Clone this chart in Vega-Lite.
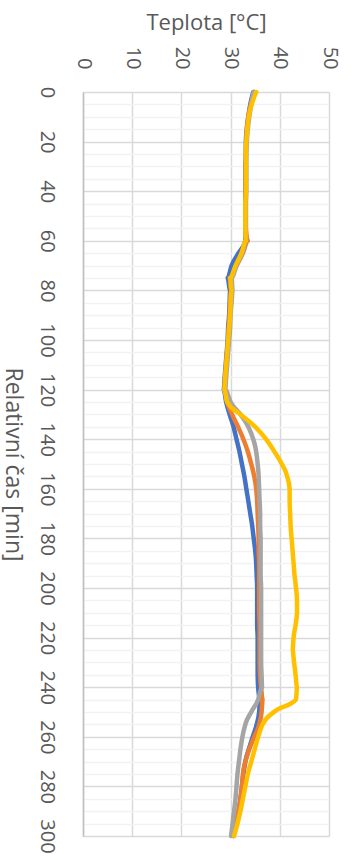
{
  "$schema": "https://vega.github.io/schema/vega-lite/v6.json",
  "width": 246,
  "height": 744,
  "autosize": {"type": "none"},
  "padding": {"left": 83, "top": 92, "right": 25, "bottom": 24},
  "background": "white",
  "config": {"view": {"stroke": null}, "font": "Open Sans"},
  "datasets": {
    "temps": [
      {"t":0,"Y":35.2,"B":34.6,"O":34.8,"G":34.7},
      {"t":5,"Y":34.3,"B":34.0,"O":34.1,"G":34.2},
      {"t":10,"Y":33.7,"B":33.6,"O":33.6,"G":33.8},
      {"t":15,"Y":33.4,"B":33.3,"O":33.3,"G":33.5},
      {"t":20,"Y":33.2,"B":33.1,"O":33.2,"G":33.3},
      {"t":25,"Y":33.1,"B":33.1,"O":33.1,"G":33.2},
      {"t":30,"Y":33.1,"B":33.0,"O":33.1,"G":33.2},
      {"t":35,"Y":33.1,"B":33.0,"O":33.1,"G":33.2},
      {"t":40,"Y":33.1,"B":33.0,"O":33.1,"G":33.2},
      {"t":45,"Y":33.0,"B":33.0,"O":33.1,"G":33.1},
      {"t":50,"Y":33.0,"B":33.0,"O":33.1,"G":33.1},
      {"t":55,"Y":33.0,"B":33.0,"O":33.1,"G":33.1},
      {"t":60,"Y":33.1,"B":33.0,"O":33.5,"G":33.2},
      {"t":65,"Y":32.2,"B":31.6,"O":32.5,"G":32.4},
      {"t":70,"Y":31.0,"B":30.2,"O":31.2,"G":31.2},
      {"t":75,"Y":29.9,"B":29.4,"O":29.8,"G":30.2},
      {"t":80,"Y":30.2,"B":29.9,"O":30.1,"G":30.4},
      {"t":85,"Y":30.0,"B":29.8,"O":29.9,"G":30.2},
      {"t":90,"Y":29.9,"B":29.7,"O":29.8,"G":30.0},
      {"t":95,"Y":29.7,"B":29.5,"O":29.6,"G":29.9},
      {"t":100,"Y":29.5,"B":29.4,"O":29.5,"G":29.7},
      {"t":105,"Y":29.3,"B":29.2,"O":29.3,"G":29.5},
      {"t":110,"Y":29.1,"B":29.0,"O":29.1,"G":29.3},
      {"t":115,"Y":28.9,"B":28.8,"O":28.9,"G":29.1},
      {"t":120,"Y":28.7,"B":28.6,"O":28.7,"G":28.9},
      {"t":125,"Y":29.3,"B":29.1,"O":29.3,"G":30.0},
      {"t":130,"Y":32.0,"B":29.8,"O":30.3,"G":32.0},
      {"t":135,"Y":35.0,"B":30.6,"O":31.5,"G":33.6},
      {"t":140,"Y":37.2,"B":31.2,"O":32.6,"G":34.6},
      {"t":145,"Y":38.9,"B":31.8,"O":33.5,"G":35.2},
      {"t":150,"Y":40.4,"B":32.3,"O":34.2,"G":35.5},
      {"t":155,"Y":41.5,"B":32.8,"O":34.8,"G":35.7},
      {"t":160,"Y":42.0,"B":33.2,"O":35.2,"G":35.8},
      {"t":165,"Y":42.0,"B":33.6,"O":35.4,"G":35.9},
      {"t":170,"Y":42.1,"B":34.0,"O":35.5,"G":36.0},
      {"t":175,"Y":42.2,"B":34.4,"O":35.6,"G":36.0},
      {"t":180,"Y":42.4,"B":34.7,"O":35.7,"G":36.1},
      {"t":185,"Y":42.6,"B":35.0,"O":35.7,"G":36.1},
      {"t":190,"Y":42.8,"B":35.2,"O":35.8,"G":36.1},
      {"t":195,"Y":43.0,"B":35.3,"O":35.8,"G":36.1},
      {"t":200,"Y":43.3,"B":35.4,"O":35.8,"G":36.2},
      {"t":205,"Y":43.5,"B":35.4,"O":35.8,"G":36.2},
      {"t":210,"Y":43.5,"B":35.4,"O":35.8,"G":36.2},
      {"t":215,"Y":43.2,"B":35.4,"O":35.9,"G":36.2},
      {"t":220,"Y":42.8,"B":35.5,"O":35.9,"G":36.2},
      {"t":225,"Y":42.6,"B":35.5,"O":35.9,"G":36.2},
      {"t":230,"Y":42.9,"B":35.5,"O":35.9,"G":36.2},
      {"t":235,"Y":43.2,"B":35.5,"O":36.0,"G":36.3},
      {"t":240,"Y":43.5,"B":35.6,"O":36.2,"G":36.4},
      {"t":245,"Y":43.3,"B":36.0,"O":36.5,"G":35.6},
      {"t":250,"Y":38.8,"B":35.8,"O":36.3,"G":34.2},
      {"t":255,"Y":36.5,"B":35.3,"O":35.8,"G":33.0},
      {"t":260,"Y":35.6,"B":34.5,"O":34.8,"G":32.4},
      {"t":265,"Y":34.9,"B":33.7,"O":33.8,"G":32.0},
      {"t":270,"Y":34.2,"B":33.0,"O":33.0,"G":31.7},
      {"t":275,"Y":33.5,"B":32.6,"O":32.5,"G":31.4},
      {"t":280,"Y":33.0,"B":32.3,"O":32.3,"G":31.2},
      {"t":285,"Y":32.5,"B":32.0,"O":32.0,"G":31.0},
      {"t":290,"Y":32.0,"B":31.6,"O":31.6,"G":30.7},
      {"t":295,"Y":31.4,"B":31.0,"O":31.0,"G":30.4},
      {"t":300,"Y":30.7,"B":30.5,"O":30.6,"G":30.1}
    ]
  },
  "data": {"name": "temps"},
  "transform": [
    {"fold": ["B", "O", "G", "Y"], "as": ["s", "v"]}
  ],
  "mark": {"type": "line", "strokeWidth": 4.5, "interpolate": "monotone", "strokeCap": "round", "strokeJoin": "round"},
  "encoding": {
    "x": {
      "field": "v", "type": "quantitative",
      "scale": {"domain": [0, 50], "nice": false, "zero": false},
      "axis": {
        "orient": "top", "values": [0, 10, 20, 30, 40, 50],
        "title": "Teplota [°C]", "titleFontSize": 22, "titleFontWeight": "normal", "titleColor": "#595959",
        "titleX": 123, "titleY": -70, "titleAlign": "center", "titleBaseline": "middle", "titleAngle": 0,
        "labelAngle": 90, "labelAlign": "right", "labelBaseline": "middle", "labelPadding": 23,
        "labelFontSize": 20, "labelColor": "#595959",
        "ticks": false, "tickSize": 0, "domain": false,
        "grid": true, "gridColor": "#d9d9d9", "gridWidth": 1.5
      }
    },
    "y": {
      "field": "t", "type": "quantitative",
      "scale": {"domain": [0, 300], "reverse": true, "nice": false},
      "axis": {
        "values": [0,5,10,15,20,25,30,35,40,45,50,55,60,65,70,75,80,85,90,95,100,105,110,115,120,125,130,135,140,145,150,155,160,165,170,175,180,185,190,195,200,205,210,215,220,225,230,235,240,245,250,255,260,265,270,275,280,285,290,295,300],
        "labelExpr": "datum.value % 20 === 0 ? datum.label : ''",
        "labelOverlap": false,
        "title": "Relativní čas [min]", "titleFontSize": 23, "titleFontWeight": "normal", "titleColor": "#595959",
        "titleAngle": 90, "titleX": -71, "titleY": 372, "titleAlign": "center", "titleBaseline": "middle",
        "labelAngle": 90, "labelAlign": "center", "labelBaseline": "top", "labelPadding": 27,
        "labelFontSize": 20, "labelColor": "#595959",
        "ticks": false, "tickSize": 0,
        "domain": true, "domainColor": "#bfbfbf", "domainWidth": 1.5,
        "grid": true,
        "gridColor": {"condition": {"test": "datum.value % 20 === 0", "value": "#d9d9d9"}, "value": "#f2f2f2"},
        "gridWidth": 1.5
      }
    },
    "color": {
      "field": "s", "type": "nominal",
      "scale": {"domain": ["B", "O", "G", "Y"], "range": ["#4472C4", "#ED7D31", "#A5A5A5", "#FFC000"]},
      "legend": null
    },
    "order": {"field": "t", "type": "quantitative"}
  }
}
